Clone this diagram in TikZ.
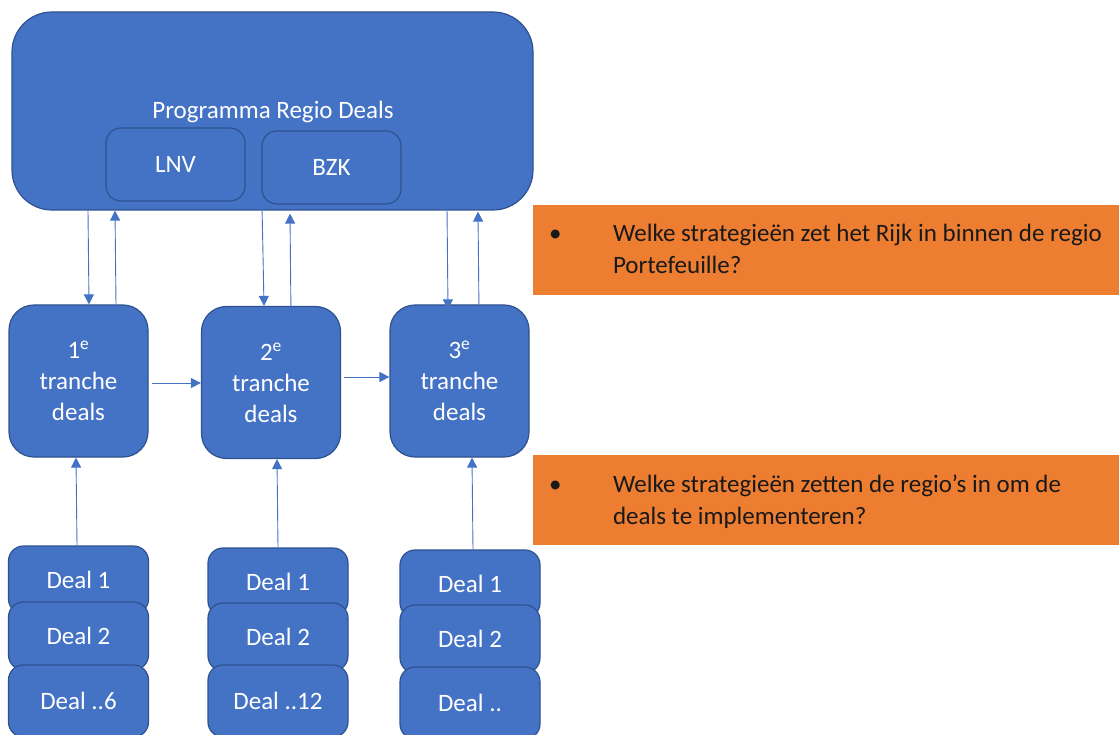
\documentclass[tikz,border=0pt]{standalone}
\usepackage{fontspec}
\setmainfont{Carlito}
\usetikzlibrary{arrows.meta}
\definecolor{blu}{HTML}{4472C4}
\definecolor{bluedge}{HTML}{2F528F}
\definecolor{orng}{HTML}{ED7D31}
\tikzset{
  box/.style={draw=bluedge, line width=1.2pt, fill=blu, text=white, inner sep=0pt, align=center, font=\fontsize{25}{31}\selectfont},
  mainbox/.style={box, rounded corners=40pt, minimum width=521pt, minimum height=198pt},
  maintext/.style={text=white, inner sep=0pt, font=\fontsize{25}{31}\selectfont},
  subbox/.style={box, rounded corners=15pt, minimum width=139pt, minimum height=73pt},
  tranche/.style={box, rounded corners=25pt, minimum width=139pt, minimum height=152pt},
  dealbox/.style={box, rounded corners=15pt, minimum width=140pt, minimum height=68pt},
  qbox/.style={fill=orng, inner sep=0pt, minimum width=586pt, minimum height=90pt},
  qtext/.style={text=black!90, font=\fontsize{25}{32}\selectfont, align=left, inner sep=0pt, anchor=north west},
  arr/.style={draw=blu, line width=0.9pt, -{Triangle[length=10pt,width=10pt]}}
}
\begin{document}
\begin{tikzpicture}[x=1pt,y=-1pt]
\useasboundingbox (0,0) rectangle (1119,735);
\clip (0,0) rectangle (1119,735);
% main program box
\node[mainbox] (main) at (272.5,111) {};
\node[maintext] (mt) at (273,112) {Programma Regio Deals};
\node[subbox] (lnv) at (175.5,164.5) {LNV};
\node[subbox] (bzk) at (331.5,167.5) {BZK};
% tranche boxes
\node[tranche] (t1) at (78.5,381) {1\textsuperscript{e}\\tranche\\deals};
\node[tranche] (t2) at (271,382.5) {2\textsuperscript{e}\\tranche\\deals};
\node[tranche] (t3) at (459.5,381) {3\textsuperscript{e}\\tranche\\deals};
% deal stacks
\node[dealbox] (a1) at (78.5,580) {Deal 1};
\node[dealbox] (a2) at (78.5,636) {Deal 2};
\node[dealbox, minimum height=72pt] (a3) at (78.5,701) {Deal ..6};
\node[dealbox] (b1) at (278,582) {Deal 1};
\node[dealbox] (b2) at (278,637) {Deal 2};
\node[dealbox, minimum height=72pt] (b3) at (278,701) {Deal ..12};
\node[dealbox] (c1) at (470,584) {Deal 1};
\node[dealbox] (c2) at (470,639) {Deal 2};
\node[dealbox, minimum height=72pt] (c3) at (470,703) {Deal ..};
% question boxes
\node[qbox] (q1) at (826,250) {};
\node[qbox] (q2) at (826,500) {};
\node[qtext] (q1b) at ([xshift=16pt,yshift=-25pt]q1.north west) {•};
\node[qtext] (q1t) at ([xshift=80pt,yshift=-19pt]q1.north west) {Welke strategieën zet het Rijk in binnen de regio\\Portefeuille?};
\node[qtext] (q2b) at ([xshift=16pt,yshift=-26pt]q2.north west) {•};
\node[qtext] (q2t) at ([xshift=80pt,yshift=-20pt]q2.north west) {Welke strategieën zetten de regio’s in om de\\deals te implementeren?};
% arrows between program and tranches
\draw[arr] (main.south -| 88,0) -- (t1.north -| 89,0);
\draw[arr] (t1.north -| 116,0) -- (main.south -| 115,0);
\draw[arr] ([yshift=6pt]main.south -| 262,0) -- (t2.north -| 264,0);
\draw[arr] ([yshift=-10pt]t2.north -| 291,0) -- ([yshift=-3pt]main.south -| 290,0);
\draw[arr] ([yshift=3pt]main.south -| 447,0) -- ([yshift=-5pt]t3.north -| 448,0);
\draw[arr] ([yshift=-8pt]t3.north -| 479,0) -- ([yshift=-1pt]main.south -| 478,0);
% arrows between tranches
\draw[arr] ([xshift=3pt]t1.east |- 0,383) -- (t2.west |- 0,383);
\draw[arr] ([xshift=3pt]t2.east |- 0,377) -- (t3.west |- 0,377);
% arrows from deals to tranches
\draw[arr] (a1.north -| 77,0) -- (t1.south -| 76,0);
\draw[arr] (b1.north -| 278,0) -- (t2.south -| 277,0);
\draw[arr] (c1.north -| 473,0) -- (t3.south -| 472,0);
\end{tikzpicture}
\end{document}
